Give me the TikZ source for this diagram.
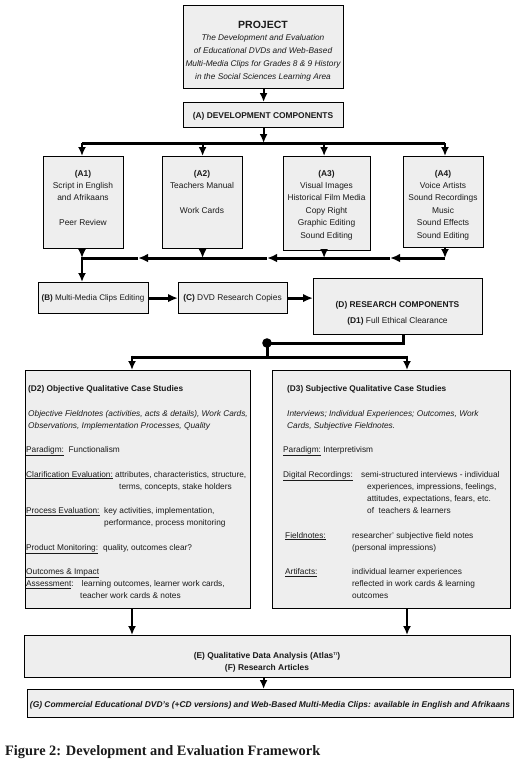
\documentclass[tikz,border=0pt]{standalone}
\usepackage{fontspec}
\usepackage{graphicx}
\setmainfont{Liberation Sans}
\newfontfamily\capfont{Liberation Serif}
\usetikzlibrary{arrows.meta,calc}
\definecolor{boxgray}{HTML}{EEEEEE}
\definecolor{ink}{HTML}{1A1A1A}
\newcommand\stc[1]{\begin{tabular}[t]{@{}c@{}}#1\end{tabular}}
\newcommand\stl[1]{\begin{tabular}[t]{@{}l@{}}#1\end{tabular}}
\newcommand\afont{\fontsize{8.4}{12.4}\selectfont}
\newcommand\dfont{\fontsize{8.3}{12.2}\selectfont}
\tikzset{
  box/.style={draw=black, line width=1.2pt, fill=boxgray, inner sep=0pt, anchor=north west},
  ctx/.style={anchor=base, inner sep=0pt, text=ink, font=\afont},
  ltx/.style={anchor=base west, inner sep=0pt, text=ink, font=\dfont},
  arr/.style={line width=2.2pt, -{Latex[length=9pt,width=8pt]}},
  bar/.style={line width=3pt},
  bararr/.style={line width=3pt, -{Latex[length=10pt,width=8.5pt]}},
}
\begin{document}
\begin{tikzpicture}[x=1pt,y=-1pt]
\useasboundingbox (0,0) rectangle (518,763);
% boxes
\node[box, minimum width=160pt, minimum height=83pt] (P) at (183,5) {};
\node[box, minimum width=160pt, minimum height=25pt] (A) at (183,102) {};
\node[box, minimum width=80pt, minimum height=92pt] (A1) at (43,156) {};
\node[box, minimum width=80pt, minimum height=92pt] (A2) at (162,156) {};
\node[box, minimum width=87pt, minimum height=94pt] (A3) at (283,156) {};
\node[box, minimum width=80pt, minimum height=91pt] (A4) at (403,156) {};
\node[box, minimum width=110pt, minimum height=31pt] (B) at (38,282) {};
\node[box, minimum width=109pt, minimum height=31pt] (C) at (178,282) {};
\node[box, minimum width=169pt, minimum height=56pt] (D) at (313,278) {};
\node[box, minimum width=225pt, minimum height=238pt] (D2) at (25,370) {};
\node[box, minimum width=238pt, minimum height=238pt] (D3) at (272,370) {};
\node[box, minimum width=486pt, minimum height=42pt] (E) at (24,635) {};
\node[box, minimum width=486pt, minimum height=28pt] (G) at (27,689) {};
% texts
\node[ctx, font=\bfseries\fontsize{10.5}{12}\selectfont] (Pt) at (263,28.5) {PROJECT};
\node[ctx, font=\itshape\fontsize{8.3}{13}\selectfont] (Pi) at (263,40) {\stc{The Development and Evaluation\\of Educational DVDs and Web-Based\\Multi-Media Clips for Grades 8 \& 9 History\\in the Social Sciences Learning Area}};
\node[ctx, font=\bfseries\afont] (At) at (263,118) {(A) DEVELOPMENT COMPONENTS};
\node[ctx] (A1t) at (83,176) {\stc{\textbf{(A1)}\\Script in English\\and Afrikaans\\ \\Peer Review}};
\node[ctx] (A2t) at (202,176) {\stc{\textbf{(A2)}\\Teachers Manual\\ \\Work Cards}};
\node[ctx] (A3t) at (326.5,176) {\stc{\textbf{(A3)}\\Visual Images\\Historical Film Media\\Copy Right\\Graphic Editing\\Sound Editing}};
\node[ctx] (A4t) at (443,176) {\stc{\textbf{(A4)}\\Voice Artists\\Sound Recordings\\Music\\Sound Effects\\Sound Editing}};
\node[ctx, font=\fontsize{8.1}{10}\selectfont] (Bt) at (93,300.5) {\textbf{(B)} Multi-Media Clips Editing};
\node[ctx] (Ct) at (232.5,300.5) {\textbf{(C)} DVD Research Copies};
\node[ctx] (Dt) at (397.5,307) {\textbf{(D) RESEARCH COMPONENTS}};
\node[ctx] (D1t) at (397.5,323) {\textbf{(D1)} Full Ethical Clearance};
% D2
\node[ltx, font=\bfseries\dfont] (D2t) at (28,391.5) {(D2) Objective Qualitative Case Studies};
\node[ltx, font=\itshape\dfont] (D2i) at (28,416) {\stl{Objective Fieldnotes (activities, acts \& details), Work Cards,\\Observations, Implementation Processes, Quality}};
\node[ltx] (D2p) at (26,452.5) {\underline{Paradigm:}\ \ Functionalism};
\node[ltx] (D2c) at (26,477) {\underline{Clarification Evaluation:}};
\node[ltx] (D2cv) at (115,477) {\stl{attributes, characteristics, structure,\\\hspace{4pt}terms, concepts, stake holders}};
\node[ltx] (D2e) at (26,513.5) {\underline{Process Evaluation:}};
\node[ltx] (D2ev) at (104,513.5) {\stl{key activities, implementation,\\performance, process monitoring}};
\node[ltx] (D2m) at (26,550) {\underline{Product Monitoring:}};
\node[ltx] (D2mv) at (103,550) {quality, outcomes clear?};
\node[ltx] (D2o) at (26,574.5) {\stl{\underline{Outcomes \& Impact}\\\underline{Assessment}:}};
\node[ltx] (D2ov) at (80,586.7) {\stl{\hspace{1.5pt}learning outcomes, learner work cards,\\teacher work cards \& notes}};
% D3
\node[ltx, font=\bfseries\dfont] (D3t) at (287,391.5) {(D3) Subjective Qualitative Case Studies};
\node[ltx, font=\itshape\dfont] (D3i) at (287,416) {\stl{Interviews; Individual Experiences; Outcomes, Work\\Cards, Subjective Fieldnotes.}};
\node[ltx] (D3p) at (283,452.5) {\underline{Paradigm:} Interpretivism};
\node[ltx] (D3d) at (283,477) {\underline{Digital Recordings:}};
\node[ltx] (D3dv) at (361,477) {\stl{semi-structured interviews - individual\\\hspace{6pt}experiences, impressions, feelings,\\\hspace{6pt}attitudes, expectations, fears, etc.\\\hspace{6pt}of\ \ teachers \& learners}};
\node[ltx] (D3f) at (285,538) {\underline{Fieldnotes:}};
\node[ltx] (D3fv) at (352,538) {\stl{researcher' subjective field notes\\(personal impressions)}};
\node[ltx] (D3a) at (285,574.5) {\underline{Artifacts:}};
\node[ltx] (D3av) at (352,574.5) {\stl{individual learner experiences\\reflected in work cards \& learning\\outcomes}};
% E, G
\node[ctx, font=\bfseries\fontsize{8.4}{12}\selectfont] (Et) at (267,658) {\stc{(E) Qualitative Data Analysis (Atlas\textsuperscript{\fontsize{4}{4}\selectfont TI})\\(F) Research Articles}};
\node[ctx, font=\bfseries\itshape\fontsize{8.3}{10}\selectfont] (Gt) at (270,707) {\resizebox{480pt}{!}{(G) Commercial Educational DVD's (+CD versions) and Web-Based Multi-Media Clips: available in English and Afrikaans}};
\node[anchor=base west, inner sep=0pt, text=ink] (cap) at (5,755) {\resizebox{315pt}{!}{\capfont\bfseries Figure 2: Development and Evaluation Framework}};
% connectors
\coordinate (tbL) at (82,143);
\coordinate (tbR) at (445,143);
\coordinate (bbL) at (82,258);
\coordinate (bbR) at (445,258);
\coordinate (m1) at (138,258);
\coordinate (m2) at (267,258);
\coordinate (m3) at (390,258);
\draw[arr] (P.south) -- (A.north);
\draw[bar] (tbL) -- (tbR);
\draw[arr] (A.south) -- (A.south |- tbL);
\draw[arr] (tbL) -- (tbL |- A1.north);
\draw[arr] (A2.north |- tbL) -- (A2.north);
\draw[arr] ($(A3.north |- tbL)+(-3,0)$) -- ($(A3.north)+(-3,0)$);
\draw[arr] (tbR) -- (tbR |- A4.north);
\draw[arr] (tbL |- A1.south) -- (bbL);
\draw[arr] (A2.south) -- (A2.south |- bbL);
\draw[arr] ($(A3.south)+(-3,0)$) -- ($(A3.south |- bbL)+(-3,0)$);
\draw[arr] (tbR |- A4.south) -- (bbR);
\draw[bararr] (bbR) -- (m3);
\draw[bararr] (m3) -- (m2);
\draw[bararr] (m2) -- (m1);
\draw[bar] (m1) -- (bbL);
\draw[arr] ($(bbL)+(0,-1.5)$) -- (bbL |- B.north);
\draw[bararr] (B.east) -- (C.west);
\draw[bararr] (C.east) -- (C.east -| D.west);
\coordinate (dot) at (267,343);
\coordinate (sbL) at (132,357);
\coordinate (sbR) at (407,357);
\draw[bar] ($(D.south)+(5.5,0)$) |- (dot);
\fill (dot) circle (4.8pt);
\draw[bar] (dot) -- (dot |- sbL);
\draw[bar] (sbL) -- (sbR);
\draw[arr] ($(sbL)+(0,-1.5)$) -- (sbL |- D2.north);
\draw[arr] ($(sbR)+(0,-1.5)$) -- (sbR |- D3.north);
\draw[arr] (sbL |- D2.south) -- (sbL |- E.north);
\draw[arr] (sbR |- D3.south) -- (sbR |- E.north);
\draw[arr] ($(E.south)+(-4,0)$) -- ($(E.south |- G.north)+(-4,0)$);
\end{tikzpicture}
\end{document}
